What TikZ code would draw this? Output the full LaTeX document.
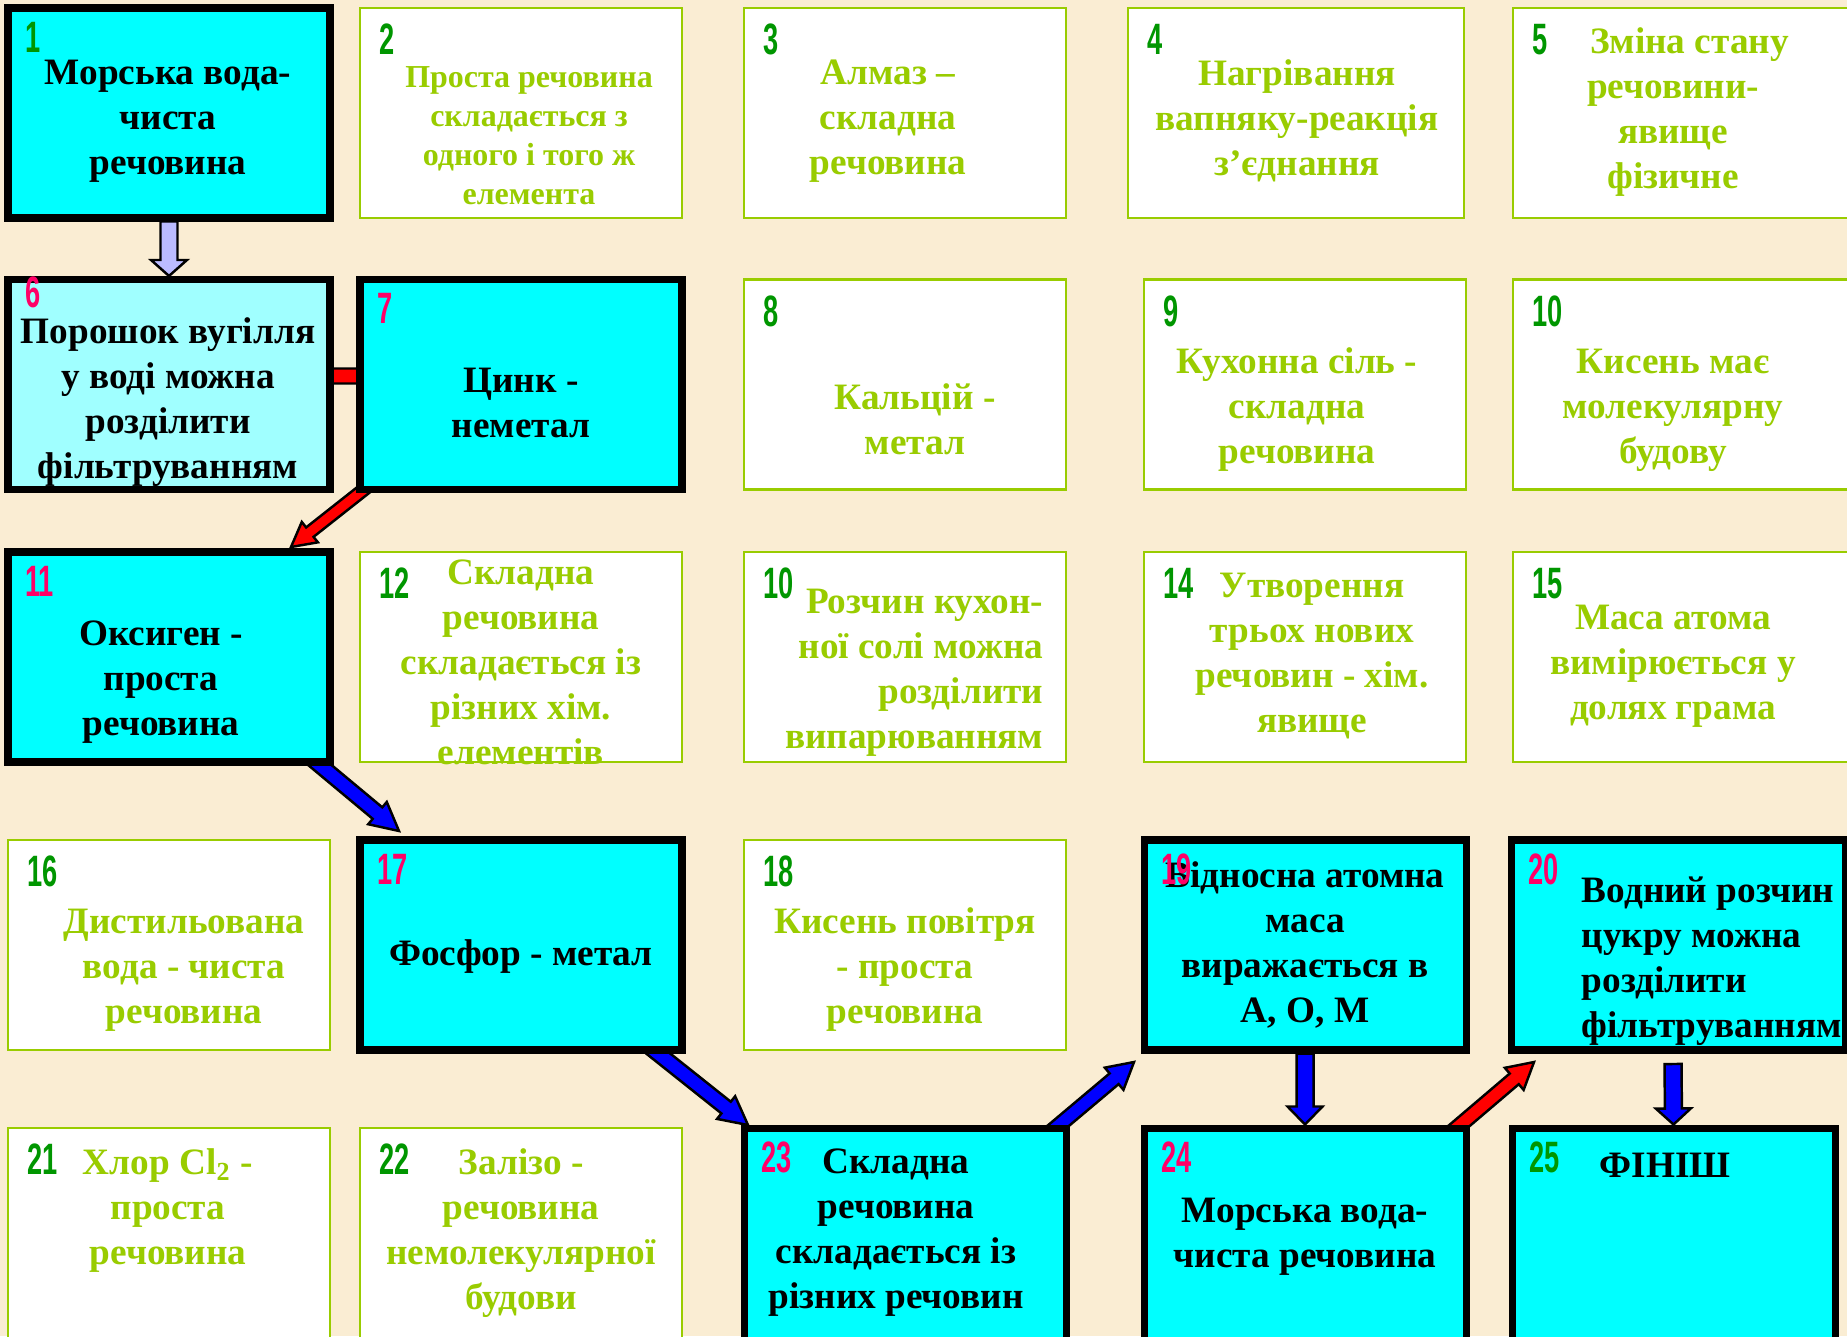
\documentclass[tikz,border=0pt]{standalone}
\usepackage{fontspec}
\setmainfont{Liberation Serif}
\newfontfamily\numfont{Liberation Sans}
\usetikzlibrary{calc}

\definecolor{paper}{RGB}{250,237,211}
\definecolor{aqua}{RGB}{0,255,255}
\definecolor{paleaqua}{RGB}{160,255,255}
\definecolor{leaf}{RGB}{153,204,0}
\definecolor{numgreen}{RGB}{0,150,0}
\definecolor{numpink}{RGB}{255,0,102}
\definecolor{lilac}{RGB}{187,187,255}
\definecolor{arrowblue}{RGB}{0,0,255}

\pgfdeclarelayer{bg}
\pgfsetlayers{bg,main}

% narrow digits for the square numbers
\newcommand{\nm}[1]{\scalebox{0.62}[1]{#1}}
% block arrow: colour, from, to, half shaft, half head, head length
\newcommand{\blockarrow}[6]{%
  \coordinate (ba) at ($(#3)!#6!(#2)$);
  \filldraw[fill=#1, draw=black, line width=0.7pt, line join=miter]
    ($(#2)!#4!90:(#3)$) -- ($(ba)!#4!-90:(#2)$) -- ($(ba)!#5!-90:(#2)$) -- (#3)
    -- ($(ba)!#5!90:(#2)$) -- ($(ba)!#4!90:(#2)$) -- ($(#2)!#4!-90:(#3)$) -- cycle;
}

\begin{document}
\begin{tikzpicture}[x=0.1mm, y=-0.1mm,
    cell/.style = {minimum width=32.2mm, minimum height=21mm, inner sep=0pt},
    hot/.style = {cell, draw=black, line width=2pt, fill=aqua},
    cold/.style = {cell, draw=leaf, line width=0.8pt, fill=white},
    txt/.style = {font=\fontsize{10.6}{12.8}\selectfont\bfseries, align=center, inner sep=0pt},
    gtxt/.style = {txt, text=leaf},
    gnum/.style = {font=\numfont\bfseries\fontsize{12.5}{13}\selectfont, text=numgreen, inner sep=0pt, anchor=base west},
    pnum/.style = {gnum, text=numpink}]
\useasboundingbox (0,0) rectangle (1847,1336);

% squares, row by row
\node[hot] (b1) at (169,113) {};
\node[cold] (b2) at (521,113) {};
\node[cold] (b3) at (905,113) {};
\node[cold, minimum width=33.6mm] (b4) at (1296,113) {};
\node[cold, minimum width=36mm] (b5) at (1693,113) {};

\node[hot, fill=paleaqua] (b6) at (169,384.5) {};
\node[hot] (b7) at (521,384.5) {};
\node[cold] (b8) at (905,384.5) {};
\node[cold] (b9) at (1305,384.5) {};
\node[cold, minimum width=36mm] (b10) at (1693,384.5) {};

\node[hot] (b11) at (169,657) {};
\node[cold] (b12) at (521,657) {};
\node[cold] (b13) at (905,657) {};
\node[cold] (b14) at (1305,657) {};
\node[cold, minimum width=36mm] (b15) at (1693,657) {};

\node[cold] (b16) at (169,945) {};
\node[hot] (b17) at (521,945) {};
\node[cold] (b18) at (905,945) {};
\node[hot] (b19) at (1305,945) {};
\node[hot, minimum width=33.4mm] (b20) at (1678,945) {};

\node[cold, minimum height=22.2mm] (b21) at (169,1239) {};
\node[cold, minimum height=22.2mm] (b22) at (521,1239) {};
\node[hot, minimum height=22.2mm] (b23) at (905,1239) {};
\node[hot, minimum height=22.2mm] (b24) at (1305,1239) {};
\node[hot, minimum height=22.2mm, minimum width=32.3mm] (b25) at (1673.5,1239) {};

% texts
\node[txt] (t1) at (168,121) {Морська вода-\\чиста\\речовина};
\node[gtxt, font=\fontsize{9.1}{11.1}\selectfont\bfseries] (t2) at (529,136) {Проста речовина\\складається з\\одного і того ж\\елемента};
\node[gtxt] (t3) at (888,121) {Алмаз –\\складна\\речовина};
\node[gtxt] (t4) at (1297,121) {Нагрівання\\вапняку-реакція\\з’єднання};
\node[gtxt] (t5) at (1673,112) {\hspace*{3.3mm}Зміна стану\\речовини-\\явище\\фізичне};

\node[txt] (t6) at (168,402) {Порошок вугілля\\у воді можна\\розділити\\фільтруванням};
\node[txt] (t7) at (521,403) {Цинк -\\неметал};
\node[gtxt] (t8) at (915,419) {Кальцій -\\метал};
\node[gtxt] (t9) at (1297,410) {Кухонна сіль -\\складна\\речовина};
\node[gtxt] (t10) at (1673,410) {Кисень має\\молекулярну\\будову};

\node[txt] (t11) at (161,682) {Оксиген -\\проста\\речовина};
\node[gtxt] (t12) at (521,662) {Складна\\речовина\\складається із\\різних хім.\\елементів};
\node[gtxt, align=right, anchor=east] (t13) at (1044,673) {Розчин кухон-\\ної солі можна\\розділити\\випарюванням};
\node[gtxt] (t14) at (1312,656) {Утворення\\трьох нових\\речовин - хім.\\явище};
\node[gtxt] (t15) at (1673,666) {Маса атома\\вимірюється у\\долях грама};

\node[gtxt] (t16) at (184,970) {Дистильована\\вода - чиста\\речовина};
\node[txt] (t17) at (521,957) {Фосфор - метал};
\node[gtxt] (t18) at (905,970) {Кисень повітря\\- проста\\речовина};
\node[txt] (t19) at (1305,945) {Відносна атомна\\маса\\виражається в\\А, О, М};
\node[txt, align=left, anchor=west] (t20) at (1581,961) {Водний розчин\\цукру можна\\розділити\\фільтруванням};

\node[gtxt] (t21) at (168,1211) {Хлор Cl\textsubscript{2} -\\проста\\речовина};
\node[gtxt] (t22) at (521,1233) {Залізо -\\речовина\\немолекулярної\\будови};
\node[txt] (t23) at (896,1233) {Складна\\речовина\\складається із\\різних речовин};
\node[txt] (t24) at (1305,1237) {Морська вода-\\чиста речовина};
\node[txt] (t25) at (1665,1165) {ФІНІШ};

% numbers
\node[gnum] (n1) at ([shift={(20,48)}]b1.north west) {\nm{1}};
\node[gnum] (n2) at ([shift={(20,48)}]b2.north west) {\nm{2}};
\node[gnum] (n3) at ([shift={(20,48)}]b3.north west) {\nm{3}};
\node[gnum] (n4) at ([shift={(20,48)}]b4.north west) {\nm{4}};
\node[gnum] (n5) at ([shift={(20,48)}]b5.north west) {\nm{5}};
\node[pnum] (n6) at ([shift={(20,32)}]b6.north west) {\nm{6}};
\node[pnum] (n7) at ([shift={(20,48)}]b7.north west) {\nm{7}};
\node[gnum] (n8) at ([shift={(20,48)}]b8.north west) {\nm{8}};
\node[gnum] (n9) at ([shift={(20,48)}]b9.north west) {\nm{9}};
\node[gnum] (n10) at ([shift={(20,48)}]b10.north west) {\nm{10}};
\node[pnum] (n11) at ([shift={(20,48)}]b11.north west) {\nm{11}};
\node[gnum] (n12) at ([shift={(20,48)}]b12.north west) {\nm{12}};
\node[gnum] (n13) at ([shift={(20,48)}]b13.north west) {\nm{10}};
\node[gnum] (n14) at ([shift={(20,48)}]b14.north west) {\nm{14}};
\node[gnum] (n15) at ([shift={(20,48)}]b15.north west) {\nm{15}};
\node[gnum] (n16) at ([shift={(20,48)}]b16.north west) {\nm{16}};
\node[pnum] (n17) at ([shift={(20,48)}]b17.north west) {\nm{17}};
\node[gnum] (n18) at ([shift={(20,48)}]b18.north west) {\nm{18}};
\node[pnum] (n19) at ([shift={(20,48)}]b19.north west) {\nm{19}};
\node[pnum] (n20) at ([shift={(20,48)}]b20.north west) {\nm{20}};
\node[gnum] (n21) at ([shift={(20,48)}]b21.north west) {\nm{21}};
\node[gnum] (n22) at ([shift={(20,48)}]b22.north west) {\nm{22}};
\node[pnum] (n23) at ([shift={(20,48)}]b23.north west) {\nm{23}};
\node[pnum] (n24) at ([shift={(20,48)}]b24.north west) {\nm{24}};
\node[gnum] (n25) at ([shift={(20,48)}]b25.north west) {\nm{25}};

% arrow ends
\coordinate (r6) at (330,376);
\coordinate (r7) at (420,376);
\coordinate (s7) at (381,476);
\coordinate (e11) at (291,547);
\coordinate (s11) at (303,751);
\coordinate (e17) at (399,831);
\coordinate (s17) at (650,1047);
\coordinate (e23) at (748,1125);
\coordinate (s23) at (1052,1131);
\coordinate (e19) at (1134,1062);
\coordinate (s24) at (1453,1131);
\coordinate (e20) at (1534,1062);
\coordinate (s25) at (1673,1064);

\begin{pgfonlayer}{bg}
\fill[paper] (0,0) rectangle (1847,1336);
\blockarrow{lilac}{b1.south}{b6.north}{0.85mm}{1.8mm}{1.6mm}
\blockarrow{red}{r6}{r7}{0.75mm}{1.6mm}{2mm}
\blockarrow{red}{s7}{e11}{0.6mm}{1.3mm}{2.4mm}
\blockarrow{arrowblue}{s11}{e17}{0.75mm}{1.45mm}{2.8mm}
\blockarrow{arrowblue}{s17}{e23}{0.75mm}{1.45mm}{2.8mm}
\blockarrow{arrowblue}{s23}{e19}{0.7mm}{1.45mm}{2.6mm}
\blockarrow{arrowblue}{b19.south}{b24.north}{0.85mm}{1.75mm}{1.8mm}
\blockarrow{red}{s24}{e20}{0.7mm}{1.45mm}{2.6mm}
\blockarrow{arrowblue}{s25}{b25.north}{0.85mm}{1.75mm}{1.6mm}
\end{pgfonlayer}
\end{tikzpicture}
\end{document}
